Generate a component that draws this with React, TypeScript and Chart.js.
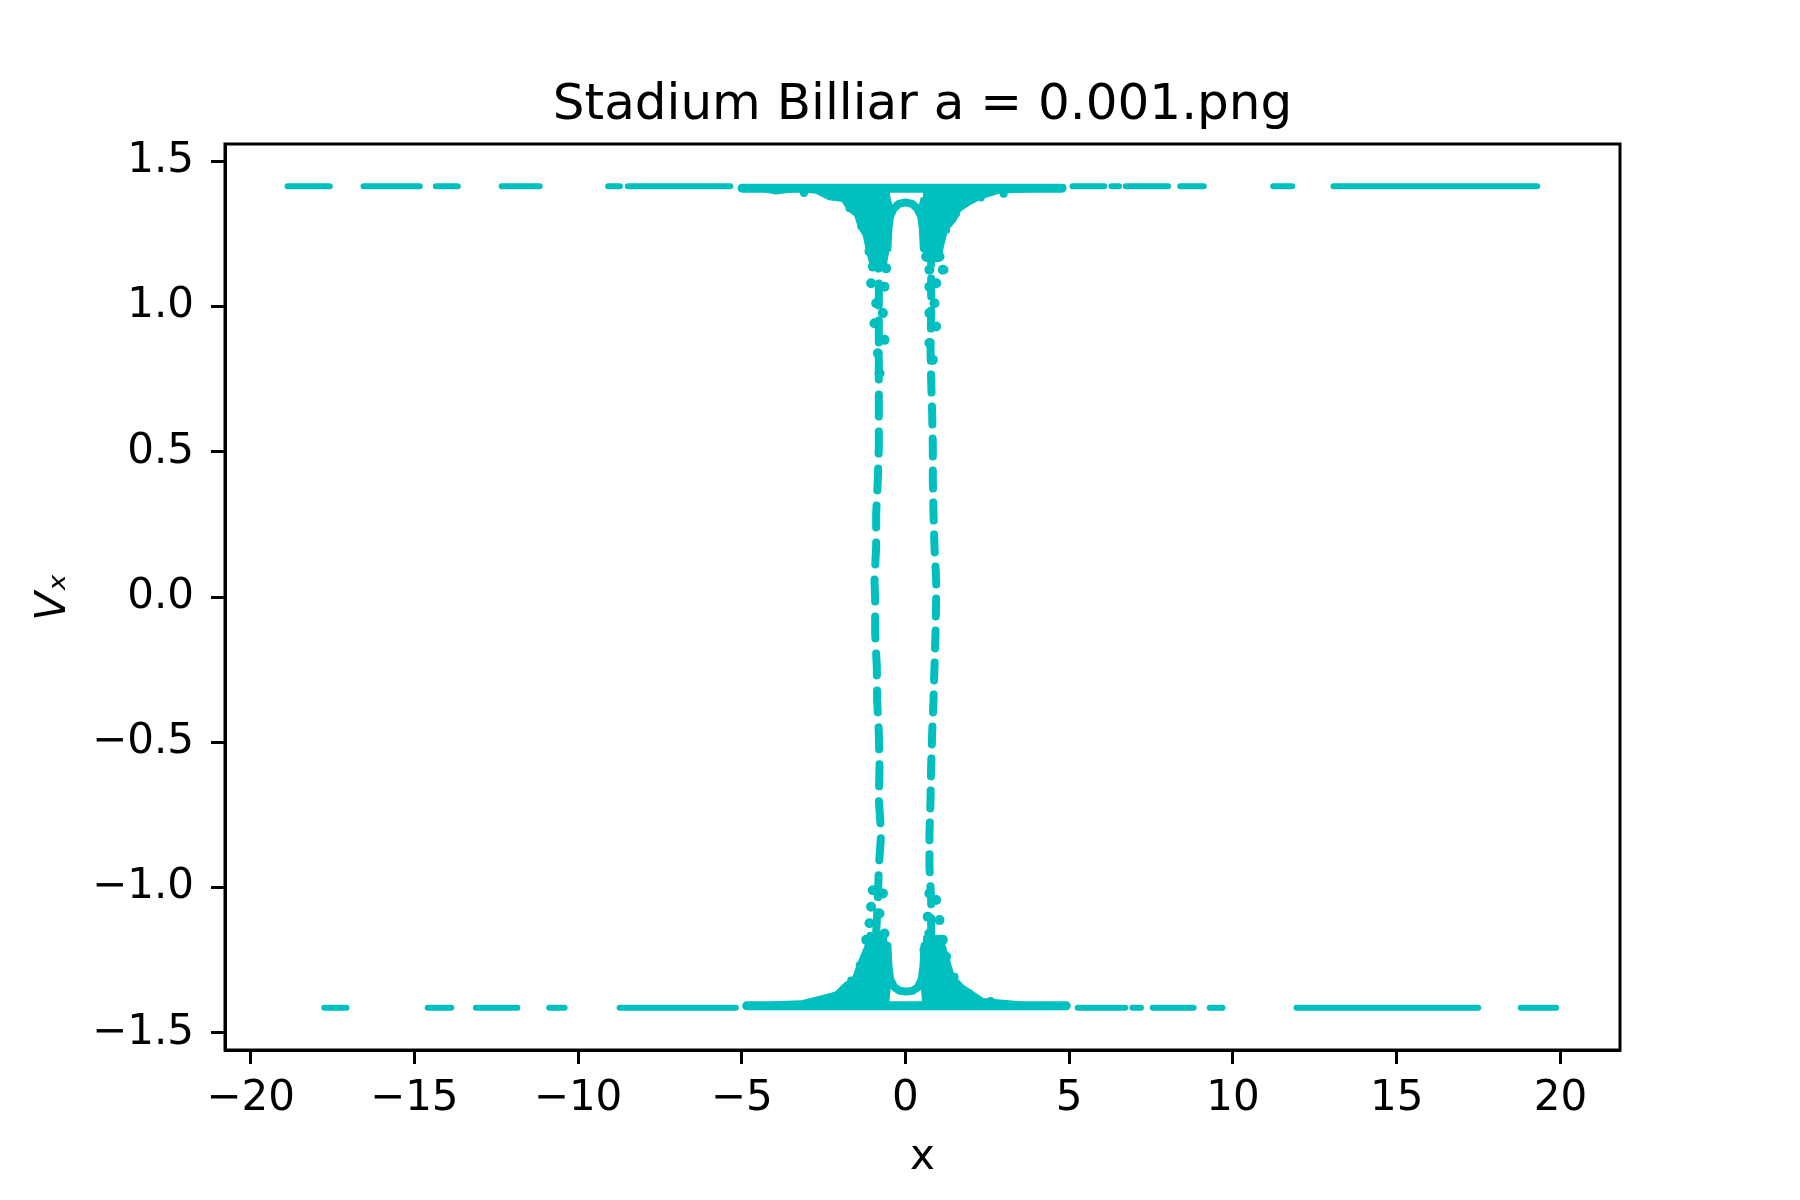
import { useEffect, useRef } from "react";
import { Chart, registerables } from "chart.js";

Chart.register(...registerables);

const CYAN = "#00bfbf";
const SPEED = 1.414;

const xTicks = [-20, -15, -10, -5, 0, 5, 10, 15, 20];
const yTicks = [-1.5, -1.0, -0.5, 0.0, 0.5, 1.0, 1.5];

// runs of points along vx = +1.414 and vx = -1.414 (start x, end x)
const topDashes: [number, number][] = [
  [-18.87, -17.58], [-16.55, -14.83], [-14.34, -13.67], [-12.33, -11.17],
  [-9.08, -8.72], [-8.48, -5.35], [5.1, 6.07], [6.29, 6.52], [6.73, 8.02],
  [8.39, 9.11], [11.23, 11.81], [13.07, 19.29],
];
const bottomDashes: [number, number][] = [
  [-17.75, -17.07], [-14.59, -13.87], [-13.12, -11.85], [-10.88, -10.41],
  [-8.73, -5.18], [5.26, 6.71], [6.93, 7.19], [7.55, 8.8], [9.29, 9.68],
  [11.94, 17.49], [18.79, 19.87],
];
const topBand: [number, number] = [-4.99, 4.78];
const bottomBand: [number, number] = [-4.85, 4.91];

// the two near-vertical branches (x, y)
const leftBranch: [number, number][] = [
  [-0.844, 1.206], [-0.814, 1.091], [-0.814, 0.977], [-0.814, 0.862],
  [-0.814, 0.747], [-0.814, 0.632], [-0.814, 0.518], [-0.844, 0.403], [-0.895, 0.288],
  [-0.895, 0.173], [-0.946, 0.059], [-0.926, -0.01], [-0.926, -0.125], [-0.875, -0.24],
  [-0.865, -0.355], [-0.814, -0.469], [-0.793, -0.584], [-0.814, -0.699], [-0.742, -0.814],
  [-0.814, -0.928], [-0.844, -1.043], [-0.895, -1.158], [-0.9, -1.25],
];
const rightBranch: [number, number][] = [
  [0.784, 1.206], [0.784, 1.091], [0.784, 0.977], [0.764, 0.862],
  [0.784, 0.747], [0.815, 0.632], [0.835, 0.518], [0.835, 0.403], [0.856, 0.288],
  [0.886, 0.173], [0.937, 0.059], [0.937, -0.01], [0.917, -0.125], [0.886, -0.24],
  [0.856, -0.355], [0.815, -0.469], [0.784, -0.584], [0.764, -0.699], [0.733, -0.814],
  [0.733, -0.928], [0.784, -1.043], [0.784, -1.158], [0.8, -1.25],
];
const topArch: [number, number][] = [
  [-0.55, 1.2], [-0.52, 1.27], [-0.47, 1.31], [-0.36, 1.337], [-0.2, 1.353], [0, 1.358],
  [0.2, 1.353], [0.36, 1.337], [0.48, 1.31], [0.53, 1.27], [0.56, 1.2],
];
const bottomArch: [number, number][] = [
  [-0.55, -1.2], [-0.52, -1.27], [-0.47, -1.315], [-0.34, -1.343], [-0.18, -1.355],
  [0.02, -1.358], [0.22, -1.355], [0.38, -1.343], [0.5, -1.315], [0.55, -1.27], [0.58, -1.2],
];

// dense clouds where the branches meet the flat runs
const topLeftCloud: [number, number][] = [
  [-5.0, 1.414], [-4.36, 1.401], [-3.95, 1.392], [-3.34, 1.401], [-2.73, 1.395],
  [-2.32, 1.372], [-1.91, 1.366], [-1.71, 1.332], [-1.51, 1.315], [-1.4, 1.275],
  [-1.25, 1.246], [-1.15, 1.194], [-1.05, 1.15], [-0.62, 1.15], [-0.54, 1.2],
  [-0.53, 1.27], [-0.5, 1.315], [-0.44, 1.34], [-0.52, 1.375], [-0.56, 1.414],
];
const topRightCloud: [number, number][] = [
  [0.56, 1.414], [4.85, 1.414], [4.3, 1.402], [2.87, 1.395], [2.3, 1.375],
  [1.95, 1.355], [1.65, 1.332], [1.5, 1.298], [1.24, 1.263], [1.1, 1.2],
  [1.04, 1.16], [0.62, 1.16], [0.54, 1.22], [0.54, 1.28], [0.51, 1.315],
  [0.45, 1.34], [0.53, 1.375],
];
const bottomLeftCloud: [number, number][] = [
  [-4.85, -1.414], [-4.0, -1.398], [-3.2, -1.395], [-2.52, -1.376], [-2.12, -1.364],
  [-1.81, -1.33], [-1.61, -1.324], [-1.41, -1.261], [-1.2, -1.204], [-1.12, -1.16],
  [-0.65, -1.16], [-0.57, -1.215], [-0.55, -1.3], [-0.5, -1.33], [-0.57, -1.414],
];
const bottomRightCloud: [number, number][] = [
  [0.58, -1.414], [0.52, -1.33], [0.55, -1.273], [0.6, -1.17], [1.08, -1.17],
  [1.24, -1.227], [1.45, -1.307], [1.75, -1.341], [2.06, -1.364], [2.36, -1.387],
  [3.5, -1.398], [4.9, -1.414],
];

// loose clumps around the branches
const clumps: [number, number][] = [
  [-1.1, 1.189], [-0.69, 1.195], [-0.997, 1.137], [-0.59, 1.131], [-1.05, 1.08],
  [-0.64, 1.068], [-0.895, 1.011], [-0.69, 0.977], [-0.946, 0.942], [-0.64, 0.885],
  [-0.844, 0.839], [-0.793, 0.77],
  [0.63, 1.172], [1.04, 1.172], [0.73, 1.126], [1.14, 1.126], [0.73, 1.068],
  [0.94, 1.08], [0.73, 0.977], [0.886, 1.011], [0.937, 0.931], [0.73, 0.874], [0.835, 0.816],
  [-0.997, -1.009], [-0.69, -1.02], [-1.05, -1.066], [-0.793, -1.089], [-1.1, -1.123],
  [-0.64, -1.158], [-1.2, -1.18], [-0.895, -1.204], [-0.69, -1.227],
  [0.73, -1.02], [0.937, -1.043], [0.68, -1.1], [1.04, -1.112], [0.73, -1.158],
  [1.14, -1.18], [0.58, -1.215], [1.24, -1.238],
];
const strayPoints: [number, number][] = [
  [-1.71, 1.338], [-1.35, 1.275], [-1.3, 1.286], [1.19, 1.126], [1.55, 1.321],
  [1.24, 1.263], [1.44, 1.304], [0.89, 1.012], [-2.2, 1.385], [-3.1, 1.39],
  [2.3, 1.375], [3.0, 1.388], [-1.16, -1.18], [-1.4, -1.267], [-1.66, -1.32],
  [1.5, -1.307], [1.95, -1.364], [1.13, -1.238], [-2.4, -1.385], [2.6, -1.39],
];

const toXY = (pts: [number, number][]) => pts.map(([x, y]) => ({ x, y }));
const minus = (s: string) => s.replace("-", "\u2212");

const run = (s: [number, number], y: number, w: number) => ({
  data: [{ x: s[0], y }, { x: s[1], y }],
  showLine: true,
  borderColor: CYAN,
  borderWidth: w,
  borderCapStyle: "round" as const,
  pointRadius: 0,
});

const cloud = (pts: [number, number][]) => ({
  data: toXY(pts),
  showLine: true,
  fill: "shape" as const,
  backgroundColor: CYAN,
  borderColor: CYAN,
  borderWidth: 4,
  borderJoinStyle: "round" as const,
  pointRadius: 0,
});

const curve = (pts: [number, number][], dash: number[]) => ({
  data: toXY(pts),
  showLine: true,
  borderColor: CYAN,
  borderWidth: 8,
  borderDash: dash,
  borderCapStyle: "round" as const,
  borderJoinStyle: "round" as const,
  pointRadius: 0,
});

const dots = (pts: [number, number][], r: number) => ({
  data: toXY(pts),
  showLine: false,
  pointRadius: r,
  pointBackgroundColor: CYAN,
  pointBorderWidth: 0,
});

const frame = {
  id: "frame",
  afterDraw(chart: Chart) {
    const { ctx, chartArea } = chart;
    ctx.save();
    ctx.strokeStyle = "#000";
    ctx.lineWidth = 3;
    ctx.strokeRect(chartArea.left, chartArea.top, chartArea.right - chartArea.left, chartArea.bottom - chartArea.top);
    ctx.restore();
  },
};

export default function App() {
  const canvasRef = useRef<HTMLCanvasElement>(null);

  useEffect(() => {
    if (!canvasRef.current) return;
    Chart.defaults.font.family = "'DejaVu Sans', sans-serif";
    Chart.defaults.color = "#000";

    const datasets: any[] = [
      ...topDashes.map((s) => run(s, SPEED, 6)),
      ...bottomDashes.map((s) => run(s, -SPEED, 6)),
      run(topBand, 1.407, 9),
      run(bottomBand, -1.407, 9),
      cloud(topLeftCloud),
      cloud(topRightCloud),
      cloud(bottomLeftCloud),
      cloud(bottomRightCloud),
      curve(leftBranch, [22, 15]),
      curve(rightBranch, [18, 14]),
      curve(topArch, []),
      curve(bottomArch, []),
      dots(clumps, 5),
      dots(strayPoints, 4),
    ];

    const chart = new Chart(canvasRef.current, {
      type: "scatter",
      data: { datasets },
      options: {
        animation: false,
        responsive: false,
        devicePixelRatio: 1,
        events: [],
        layout: { padding: { left: 0, right: 180, top: 0, bottom: 0 } },
        plugins: {
          legend: { display: false },
          tooltip: { enabled: false },
          title: {
            display: true,
            text: "Stadium Billiar a = 0.001.png",
            fullSize: false,
            color: "#000",
            font: { size: 50, weight: "normal", lineHeight: 1.2 },
            padding: { top: 76, bottom: 8 },
          },
        },
        scales: {
          x: {
            type: "linear",
            min: -20.78,
            max: 21.82,
            afterFit: (s: any) => {
              s.height = 150;
            },
            afterBuildTicks: (s: any) => {
              s.ticks = xTicks.map((value) => ({ value }));
            },
            ticks: {
              font: { size: 42 },
              color: "#000",
              padding: 10,
              maxRotation: 0,
              callback: (v: any) => minus(String(v)),
            },
            grid: {
              drawOnChartArea: false,
              drawTicks: true,
              tickLength: 14,
              tickWidth: 3,
              tickColor: "#000",
            },
            border: { display: true, color: "#000", width: 3 },
            title: {
              display: true,
              text: "x",
              color: "#000",
              font: { size: 42, lineHeight: 1.2 },
              padding: { top: 0, bottom: 17 },
            },
          },
          y: {
            type: "linear",
            min: -1.559,
            max: 1.559,
            afterFit: (s: any) => {
              s.width = 225;
            },
            afterBuildTicks: (s: any) => {
              s.ticks = yTicks.map((value) => ({ value }));
            },
            ticks: {
              font: { size: 42 },
              color: "#000",
              padding: 17,
              callback: (v: any) => minus(Number(v).toFixed(1)),
            },
            grid: {
              drawOnChartArea: false,
              drawTicks: true,
              tickLength: 14,
              tickWidth: 3,
              tickColor: "#000",
            },
            border: { display: true, color: "#000", width: 3 },
            title: {
              display: true,
              text: "V\u2093",
              color: "#000",
              font: { size: 42, style: "italic", lineHeight: 1.2 },
              padding: { top: 29, bottom: 0 },
            },
          },
        },
      },
      plugins: [frame],
    });

    return () => chart.destroy();
  }, []);

  return (
    <div style={{ position: "absolute", left: 0, top: 0, width: 1800, height: 1200, background: "#fff" }}>
      <canvas ref={canvasRef} width={1800} height={1200} />
    </div>
  );
}
